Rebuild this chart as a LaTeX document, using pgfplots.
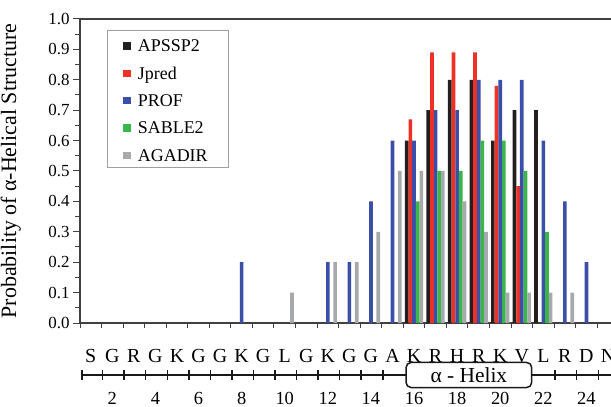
\documentclass[border=0pt]{standalone}
\usepackage{fontspec}
\setmainfont{Liberation Serif}
\usepackage{pgfplots}
\pgfplotsset{compat=1.18}
\definecolor{cblack}{HTML}{231F20}
\definecolor{cred}{HTML}{ED3124}
\definecolor{cblue}{HTML}{3B4FA8}
\definecolor{cgreen}{HTML}{3AB54A}
\definecolor{cgrey}{HTML}{A7A9AC}
\definecolor{axgray}{HTML}{404040}
\newcommand\fs[1]{\fontsize{#1}{#1}\selectfont}
\newcommand\lentry[1]{\makebox[75bp][l]{#1}}
\begin{document}
\begin{tikzpicture}
\begin{axis}[
  at={(80bp,84bp)}, anchor=south west,
  width=531bp, height=304bp, scale only axis,
  xmin=0.5, xmax=25.14, ymin=0, ymax=1,
  axis x line*=bottom, axis y line*=left,
  axis line style={axgray, line width=1.1bp},
  tick style={axgray, line width=1bp},
  tick align=outside,
  major tick length=7bp, minor tick length=4.5bp,
  ytick={0,0.1,0.2,0.3,0.4,0.5,0.6,0.7,0.8,0.9,1.0},
  minor ytick={0.05,0.15,0.25,0.35,0.45,0.55,0.65,0.75,0.85,0.95},
  yticklabel style={font=\fs{17}, /pgf/number format/.cd, fixed, fixed zerofill, precision=1, assume math mode=true},
  xtick={1,...,25},
  xticklabels={S,G,R,G,K,G,G,K,G,L,G,K,G,G,A,K,R,H,R,K,V,L,R,D,N},
  major x tick style={draw=none},
  minor xtick={0.5,1.5,...,24.5},
  xticklabel style={font=\fs{20}, anchor=base, yshift=-32bp},
  ylabel={Probability of α-Helical Structure},
  ylabel style={font=\fs{22}, at={(axis description cs:-0.1205,0.5)}, anchor=base},
  clip=false,
  legend style={at={(axis description cs:0.0508,0.9638)}, anchor=north west,
    draw=gray!75, line width=0.9bp, font=\fs{18},
    cells={anchor=base west},
    nodes={inner sep=0bp, text height=15.4bp, text depth=0bp},
    inner xsep=16bp, inner ysep=6bp, row sep=11.9bp,
    /tikz/every odd column/.append style={column sep=7bp}},
  legend image code/.code={\fill[#1] (0bp,2bp) rectangle (7.5bp,9.5bp);},
]
\addplot[ybar, bar width=0.17, bar shift=-0.34, fill=cblack, draw=none] coordinates {
 (16,0.6) (17,0.7) (18,0.8) (19,0.8) (20,0.6) (21,0.7) (22,0.7)};
\addlegendentry{\lentry{APSSP2}}
\addplot[ybar, bar width=0.17, bar shift=-0.17, fill=cred, draw=none] coordinates {
 (16,0.67) (17,0.89) (18,0.89) (19,0.89) (20,0.78) (21,0.45)};
\addlegendentry{\lentry{Jpred}}
\addplot[ybar, bar width=0.17, bar shift=0, fill=cblue, draw=none] coordinates {
 (8,0.2) (12,0.2) (13,0.2) (14,0.4) (15,0.6) (16,0.6) (17,0.7) (18,0.7) (19,0.8) (20,0.8) (21,0.8) (22,0.6) (23,0.4) (24,0.2)};
\addlegendentry{\lentry{PROF}}
\addplot[ybar, bar width=0.17, bar shift=0.17, fill=cgreen, draw=none] coordinates {
 (16,0.4) (17,0.5) (18,0.5) (19,0.6) (20,0.6) (21,0.5) (22,0.3)};
\addlegendentry{\lentry{SABLE2}}
\addplot[ybar, bar width=0.17, bar shift=0.34, fill=cgrey, draw=none] coordinates {
 (10,0.1) (12,0.2) (13,0.2) (14,0.3) (15,0.5) (16,0.5) (17,0.5) (18,0.4) (19,0.3) (20,0.1) (21,0.1) (22,0.1) (23,0.1)};
\addlegendentry{\lentry{AGADIR}}
% top border
\draw[axgray, line width=1.1bp] (rel axis cs:0,1) -- (rel axis cs:1,1);
% ruler
\draw[black!90, line width=1.7bp] (axis cs:0.6,-0.171) -- (axis cs:15.63,-0.171);
\draw[black!90, line width=1.7bp] (axis cs:21.46,-0.171) -- (axis cs:25.3,-0.171);
\pgfplotsinvokeforeach{0.6,1.55,2.55,3.55,4.55,5.55,6.55,7.55,8.55,9.55,10.55,11.55,12.55,13.55,14.55,22.55,23.55,24.55}{
  \draw[black!90, line width=1.5bp] (axis cs:#1,-0.1546) -- (axis cs:#1,-0.1874);
}
\draw[black!90, line width=1.5bp, fill=white, rounded corners=5bp] (axis cs:15.63,-0.1299) rectangle (axis cs:21.46,-0.2122);
\node[font=\fs{21.5}, inner sep=0pt] at (axis cs:18.545,-0.171) {α - Helix};
\pgfplotsinvokeforeach{2,4,...,24}{
  \node[font=\fs{18.5}, anchor=base, inner sep=0pt] at (axis cs:#1,-0.2680) {#1};
}
\end{axis}
\pgfresetboundingbox
\path[use as bounding box] (0,0) rectangle (611bp,407bp);
\end{tikzpicture}
\end{document}
